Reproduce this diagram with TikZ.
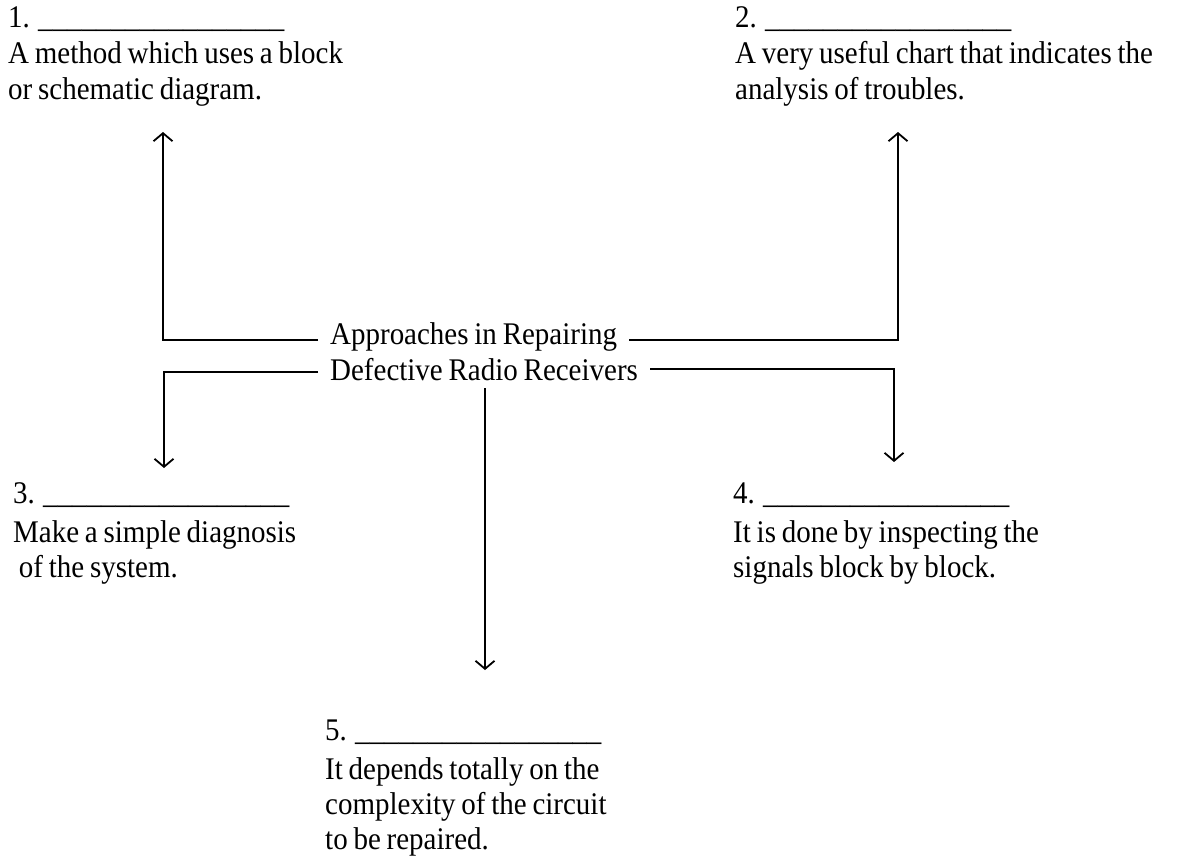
\documentclass[tikz,border=0pt]{standalone}
\usepackage{fontspec}
\setmainfont{Liberation Serif}[FakeStretch=0.92,WordSpace=0.8]
\usetikzlibrary{arrows.meta}
\begin{document}
\begin{tikzpicture}[x=1pt,y=-1pt,
  txt/.style={anchor=base west,inner sep=0pt,font=\fontsize{31.5}{35}\selectfont},
  conn/.style={line width=2.2pt,-{Straight Barb[length=8pt,width=19pt,line width=1.8pt]}}]
\useasboundingbox (0,0) rectangle (1180,865);
% block 1
\node[txt] (b1a) at (8,27) {1. \_\_\_\_\_\_\_\_\_\_\_\_\_\_\_\_\_};
\node[txt] (b1b) at (8,63) {A method which uses a block};
\node[txt] (b1c) at (8,99) {or schematic diagram.};
% block 2
\node[txt] (b2a) at (735,27) {2. \_\_\_\_\_\_\_\_\_\_\_\_\_\_\_\_\_};
\node[txt] (b2b) at (735,63) {A very useful chart that indicates the};
\node[txt] (b2c) at (735,99) {analysis of troubles.};
% block 3
\node[txt] (b3a) at (13,503) {3. \_\_\_\_\_\_\_\_\_\_\_\_\_\_\_\_\_};
\node[txt] (b3b) at (13,542) {Make a simple diagnosis};
\node[txt] (b3c) at (13,577) {\ of the system.};
% block 4
\node[txt] (b4a) at (733,503) {4. \_\_\_\_\_\_\_\_\_\_\_\_\_\_\_\_\_};
\node[txt] (b4b) at (733,542) {It is done by inspecting the};
\node[txt] (b4c) at (733,577) {signals block by block.};
% block 5
\node[txt] (b5a) at (325,740) {5. \_\_\_\_\_\_\_\_\_\_\_\_\_\_\_\_\_};
\node[txt] (b5b) at (325,779) {It depends totally on the};
\node[txt] (b5c) at (325,814) {complexity of the circuit};
\node[txt] (b5d) at (325,849) {to be repaired.};
% centre
\node[txt] (c1) at (330,344) {Approaches in Repairing};
\node[txt] (c2) at (330,380) {Defective Radio Receivers};
% connector points
\coordinate (l1) at ([xshift=-12pt,yshift=4pt]c1.base west);
\coordinate (r1) at ([xshift=12pt,yshift=4pt]c1.base east);
\coordinate (l2) at ([xshift=-12pt,yshift=8pt]c2.base west);
\coordinate (r2) at ([xshift=12pt,yshift=11pt]c2.base east);
\coordinate (t1) at (163,132);
\coordinate (t2) at (898,132);
\coordinate (t3) at (164,468);
\coordinate (t4) at (894,462);
\coordinate (s5) at (485,388);
\coordinate (t5) at (485,670);
\draw[conn] (l1) -| (t1);
\draw[conn] (r1) -| (t2);
\draw[conn] (l2) -| (t3);
\draw[conn] (r2) -| (t4);
\draw[conn] (s5) -- (t5);
\end{tikzpicture}
\end{document}
